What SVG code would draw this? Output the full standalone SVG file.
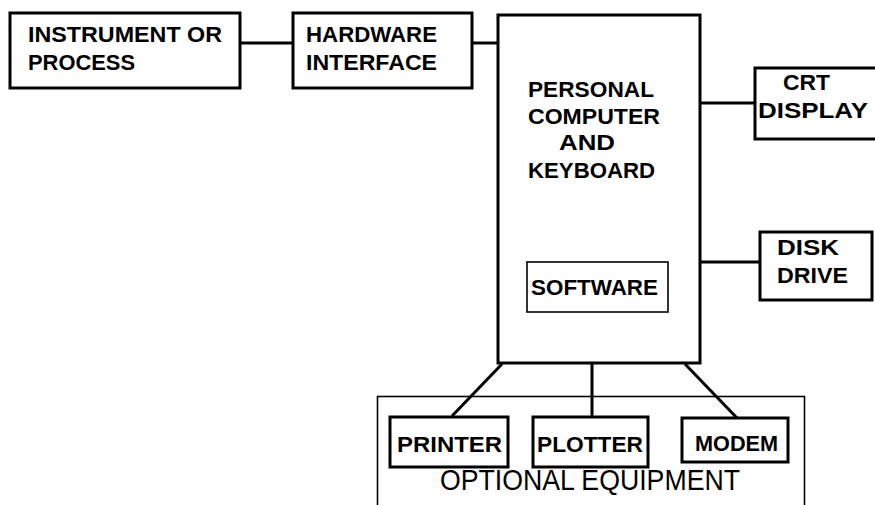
<svg xmlns="http://www.w3.org/2000/svg" width="875" height="505" viewBox="0 0 875 505">
<style>
.box{fill:#fff;stroke:#000;stroke-width:3}
.thin{fill:none;stroke:#000;stroke-width:1.6}
.lbl{font-family:"Liberation Sans",Arial,sans-serif;font-weight:bold;font-size:22px;fill:#000}
.opt{font-family:"Liberation Sans",Arial,sans-serif;font-size:30px;fill:#000}
.conn{stroke:#000;stroke-width:3;fill:none}
</style>
<rect width="875" height="505" fill="#fff"/>
<g id="optional">
<rect class="thin" x="377.5" y="396.5" width="427" height="120"/>
<text class="opt" x="440" y="490" textLength="300" lengthAdjust="spacingAndGlyphs">OPTIONAL EQUIPMENT</text>
</g>
<g id="connectors">
<line class="conn" x1="240" y1="43" x2="293" y2="43"/>
<line class="conn" x1="472" y1="43" x2="498" y2="43"/>
<line class="conn" x1="700" y1="103" x2="755" y2="103"/>
<line class="conn" x1="700" y1="262" x2="760" y2="262"/>
<line class="conn" x1="502" y1="364" x2="452" y2="416" stroke-width="4"/>
<line class="conn" x1="592" y1="364" x2="592" y2="417"/>
<line class="conn" x1="685" y1="364" x2="737" y2="418" stroke-width="4"/>
</g>
<g id="instrument">
<rect class="box" x="10" y="13" width="230" height="75"/>
<text class="lbl" x="28" y="42" textLength="194" lengthAdjust="spacingAndGlyphs">INSTRUMENT OR</text>
<text class="lbl" x="28" y="70" textLength="107" lengthAdjust="spacingAndGlyphs">PROCESS</text>
</g>
<g id="hardware">
<rect class="box" x="293" y="13" width="179" height="75"/>
<text class="lbl" x="306" y="42" textLength="131" lengthAdjust="spacingAndGlyphs">HARDWARE</text>
<text class="lbl" x="306" y="70" textLength="131" lengthAdjust="spacingAndGlyphs">INTERFACE</text>
</g>
<g id="pc">
<rect class="box" x="498" y="15" width="202" height="348"/>
<text class="lbl" x="528" y="97" textLength="126" lengthAdjust="spacingAndGlyphs">PERSONAL</text>
<text class="lbl" x="528" y="124" textLength="132" lengthAdjust="spacingAndGlyphs">COMPUTER</text>
<text class="lbl" x="559" y="150" textLength="56" lengthAdjust="spacingAndGlyphs">AND</text>
<text class="lbl" x="528" y="178" textLength="127" lengthAdjust="spacingAndGlyphs">KEYBOARD</text>
</g>
<g id="software">
<rect class="thin" x="527" y="262" width="141" height="50"/>
<text class="lbl" x="531" y="295" textLength="127" lengthAdjust="spacingAndGlyphs">SOFTWARE</text>
</g>
<g id="crt">
<rect class="box" x="755" y="68" width="130" height="71"/>
<text class="lbl" x="783" y="90" textLength="47" lengthAdjust="spacingAndGlyphs">CRT</text>
<text class="lbl" x="758" y="118" textLength="110" lengthAdjust="spacingAndGlyphs">DISPLAY</text>
</g>
<g id="disk">
<rect class="box" x="760" y="232" width="112" height="68"/>
<text class="lbl" x="777" y="255" textLength="62" lengthAdjust="spacingAndGlyphs">DISK</text>
<text class="lbl" x="777" y="283" textLength="71" lengthAdjust="spacingAndGlyphs">DRIVE</text>
</g>
<g id="printer">
<rect class="box" x="390" y="417" width="118" height="50"/>
<text class="lbl" x="397" y="452" textLength="105" lengthAdjust="spacingAndGlyphs">PRINTER</text>
</g>
<g id="plotter">
<rect class="box" x="533" y="417" width="115" height="50"/>
<text class="lbl" x="537" y="452" textLength="106" lengthAdjust="spacingAndGlyphs">PLOTTER</text>
</g>
<g id="modem">
<rect class="box" x="682" y="418" width="106" height="44"/>
<text class="lbl" x="695" y="451" textLength="83" lengthAdjust="spacingAndGlyphs">MODEM</text>
</g>
</svg>
